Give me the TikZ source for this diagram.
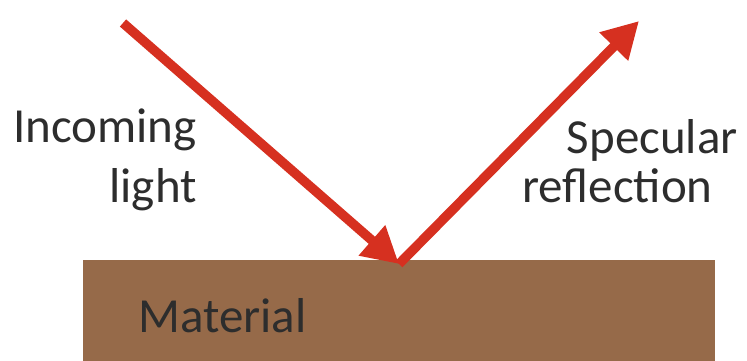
\documentclass[tikz,border=0pt]{standalone}
\usepackage{fontspec}
\setmainfont{Carlito}
\usetikzlibrary{arrows.meta,positioning}
\definecolor{raycol}{RGB}{214,48,32}
\definecolor{slabcol}{RGB}{150,106,73}
\definecolor{txtcol}{RGB}{45,45,45}
\begin{document}
\begin{tikzpicture}[
    x=1pt, y=-1pt,
    slab/.style={fill=slabcol, draw=none, anchor=north west, minimum width=632pt, minimum height=101pt, inner sep=0pt},
    ray/.style={-{Triangle[length=36pt, width=38pt]}, line width=9.5pt, draw=raycol},
    lbl/.style={font=\fontsize{49}{60}\selectfont, text=txtcol, inner sep=0pt}
]
\useasboundingbox (0,0) rectangle (747,361);
\node[slab] (material) at (83,260) {};
\node[lbl, anchor=base west] (matlabel) at (138,332) {Material};
\coordinate (src) at (123,23);
\coordinate (hit) at (399,264);
\coordinate (out) at (639,21);
\draw[ray] (src) -- (hit);
\draw[ray] (hit) -- (out);
\node[lbl, align=right, anchor=base east] (incoming) at (197,202) {Incoming\\light};
\node[lbl, anchor=base east] (specular) at (738,153) {Specular};
\node[lbl, anchor=base west] (reflection) at (522,202) {reflection};
\end{tikzpicture}
\end{document}
